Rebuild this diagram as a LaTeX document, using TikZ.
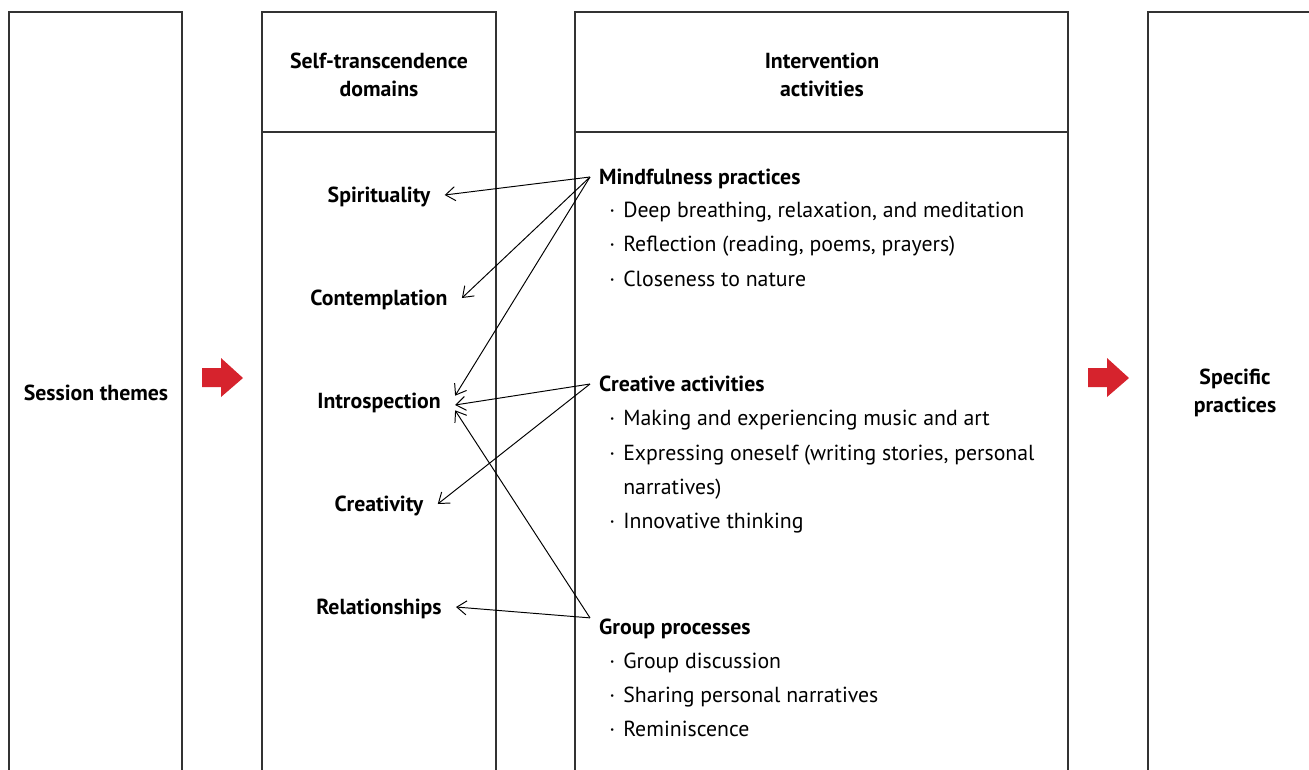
\documentclass[tikz,border=0pt]{standalone}
\usepackage{fontspec}
\setmainfont{PT Sans}
\usetikzlibrary{positioning}
\usetikzlibrary{arrows.meta}
\definecolor{flowred}{RGB}{214,35,45}
\newcommand{\bul}{\makebox[12.5pt]{\textperiodcentered}}
\tikzset{
    column/.style = {draw=black!80, line width=0.8pt},
    theme/.style = {align=center, font=\bfseries\fontsize{12.4}{16}\selectfont},
    domlabel/.style = {inner xsep=8pt, text height=0.9em, text depth=0.1em, font=\bfseries\fontsize{12.4}{16}\selectfont},
    act/.style = {anchor=west, inner xsep=5pt, inner ysep=0pt, text height=0.9em, text depth=0.1em, font=\bfseries\fontsize{12.4}{16}\selectfont},
    item/.style = {anchor=west, inner sep=0pt, text height=0.9em, text depth=0.1em, font=\fontsize{12.4}{16}\selectfont},
    link/.style = {-{Straight Barb[length=5.5pt,width=8pt]}, line width=0.55pt},
    flowarrow/.style = {fill=flowred},
}
\begin{document}
\begin{tikzpicture}[x=0.02cm, y=-0.02cm]
\useasboundingbox (0,0) rectangle (1309,769);
\clip (0,0) rectangle (1309,769);
% columns
\draw[column] (9,12) rectangle (182,800);
\draw[column] (262,12) rectangle (496,800);
\draw[column] (262,132) -- (496,132);
\draw[column] (575,12) rectangle (1068,800);
\draw[column] (575,132) -- (1068,132);
\draw[column] (1148,12) rectangle (1340,800);
%
\node[theme] (sess) at (96,393) {Session themes};
\node[theme] (sthead) at (379,75) {Self-transcendence\\domains};
\node[theme] (ivhead) at (822,75) {Intervention\\activities};
\node[theme] (spec) at (1235,393) {Specific\\practices};
% red arrows
\fill[flowarrow] (202,368) -- (221,368) -- (221,358) -- (243,378) -- (221,397) -- (221,387) -- (202,387) -- cycle;
\fill[flowarrow, shift={(886,0)}] (202,368) -- (221,368) -- (221,358) -- (243,378) -- (221,397) -- (221,387) -- (202,387) -- cycle;
% domains
\node[domlabel] (spir) at (379,195) {Spirituality};
\node[domlabel] (cont) at (379,298) {Contemplation};
\node[domlabel] (intro) at (379,401) {Introspection};
\node[domlabel] (creat) at (379,504) {Creativity};
\node[domlabel] (rel) at (379,607) {Relationships};
% activities
\node[act] (mind) at (590,177) {Mindfulness practices};
\node[act] (crea) at (590,384) {Creative activities};
\node[act] (grp) at (590,627) {Group processes};
\foreach \n/\y/\t in {m1/210/{Deep breathing, relaxation, and meditation},
    m2/244/{Reflection (reading, poems, prayers)},
    m3/279/{Closeness to nature},
    c1/418/{Making and experiencing music and art},
    c2/453/{Expressing oneself (writing stories, personal},
    c4/521/{Innovative thinking},
    g1/661/{Group discussion},
    g2/695/{Sharing personal narratives},
    g3/729/{Reminiscence}}
    \node[item] (\n) at (601,\y) {\bul\t};
\node[item] (c3) at (601,487) {\hspace*{12.5pt}narratives)};
%
\draw[link] (mind.west) -- (spir.east);
\draw[link] (mind.west) -- (cont.east);
\draw[link] (mind.west) -- (intro.4);
\draw[link] (crea.west) -- (intro.-3);
\draw[link] (crea.west) -- (creat.east);
\draw[link] (grp.north west) -- (intro.-7);
\draw[link] (grp.north west) -- (rel.east);

\end{tikzpicture}
\end{document}
